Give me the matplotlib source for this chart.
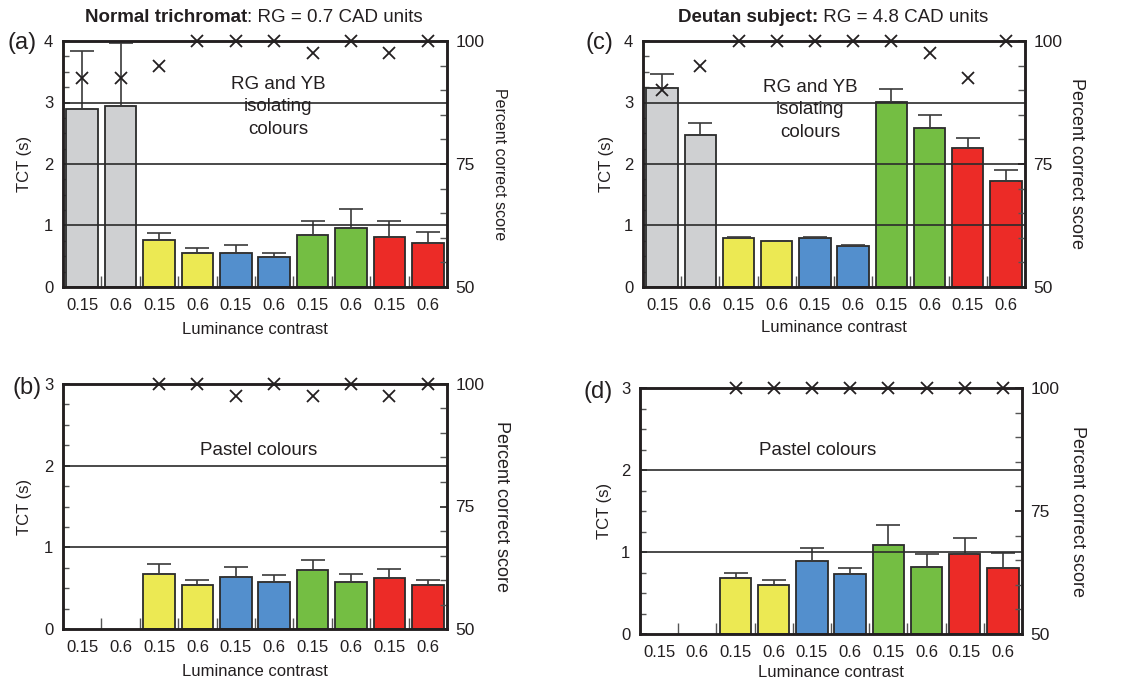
import numpy as np
import matplotlib
matplotlib.use('Agg')
import matplotlib.pyplot as plt
from matplotlib.ticker import MultipleLocator, FixedLocator

plt.rcParams['font.family'] = ['Liberation Sans', 'DejaVu Sans']

# x tick labels (luminance contrast), two per colour group
contrast_labels = ['0.15', '0.6', '0.15', '0.6', '0.15', '0.6', '0.15', '0.6', '0.15', '0.6']
bar_colours = ['#cfd0d2', '#cfd0d2', '#ece953', '#ece953', '#538fcd', '#538fcd',
               '#74be43', '#74be43', '#ec2b27', '#ec2b27']

# (a) normal trichromat, RG and YB isolating colours
tct_a = [2.89, 2.95, 0.76, 0.55, 0.55, 0.49, 0.85, 0.96, 0.81, 0.71]
err_top_a = [3.84, 3.97, 0.88, 0.64, 0.68, 0.56, 1.08, 1.27, 1.08, 0.89]
pc_a = [92.5, 92.5, 95, 100, 100, 100, 97.5, 100, 97.5, 100]

# (b) normal trichromat, pastel colours (no data for the grey pair)
tct_b = [None, None, 0.67, 0.54, 0.64, 0.58, 0.72, 0.575, 0.63, 0.54]
err_top_b = [None, None, 0.80, 0.60, 0.76, 0.66, 0.845, 0.67, 0.73, 0.60]
pc_b = [None, None, 100, 100, 97.5, 100, 97.5, 100, 97.5, 100]

# (c) deutan subject, RG and YB isolating colours
tct_c = [3.23, 2.47, 0.80, 0.74, 0.79, 0.67, 3.01, 2.59, 2.26, 1.73]
err_top_c = [3.47, 2.66, 0.81, 0.75, 0.81, 0.68, 3.22, 2.79, 2.43, 1.91]
pc_c = [90, 95, 100, 100, 100, 100, 100, 97.5, 92.5, 100]

# (d) deutan subject, pastel colours
tct_d = [None, None, 0.68, 0.60, 0.89, 0.73, 1.08, 0.82, 0.97, 0.80]
err_top_d = [None, None, 0.75, 0.655, 1.045, 0.80, 1.335, 0.975, 1.17, 0.985]
pc_d = [None, None, 100, 100, 100, 100, 100, 100, 100, 100]

DARK = '#231f20'


def plot_panel(ax, tct, err_top, pc, ymax, note, note_xy,
               tct_lab_x, pc_lab_x, pc_lab_size, xlab_y):
    x = np.arange(len(contrast_labels))
    idx = [i for i in range(len(tct)) if tct[i] is not None]
    heights = np.array([tct[i] for i in idx])
    tops = np.array([err_top[i] for i in idx])

    ax.bar(x[idx], heights, width=0.82, color=[bar_colours[i] for i in idx],
           edgecolor='#2b2b2b', linewidth=1.3, zorder=2)
    # only the upper half of each error bar is shown
    ax.errorbar(x[idx], heights, yerr=[np.zeros(len(idx)), tops - heights],
                fmt='none', ecolor='#3a3a3a', elinewidth=1.2, capsize=8.5,
                capthick=1.2, zorder=3)
    for g in range(1, ymax):
        ax.axhline(g, color='#2b2b2b', linewidth=1.2, zorder=4)

    ax.set_xlim(-0.5, 9.5)
    ax.set_ylim(0, ymax)
    ax.set_xticks(x)
    ax.set_xticklabels(contrast_labels)
    ax.xaxis.set_minor_locator(FixedLocator(x[:-1] + 0.5))
    ax.tick_params(axis='x', which='major', length=0, pad=8, labelsize=12, colors=DARK)
    ax.tick_params(axis='x', which='minor', direction='in', length=8, width=1.0, color='#555555')
    ax.set_yticks(range(ymax + 1))
    ax.yaxis.set_minor_locator(MultipleLocator(0.25))
    ax.tick_params(axis='y', which='major', direction='in', length=5, width=1.2,
                   pad=7, labelsize=12, colors=DARK)
    ax.tick_params(axis='y', which='minor', direction='in', length=4, width=1.0, color='#555555')
    ax.set_ylabel('TCT (s)', fontsize=12, color=DARK)
    ax.yaxis.set_label_coords(tct_lab_x, 0.5)
    ax.set_xlabel('Luminance contrast', fontsize=12, color=DARK)
    ax.xaxis.set_label_coords(0.5, xlab_y)
    for s in ax.spines.values():
        s.set_linewidth(1.8)
        s.set_color(DARK)

    # percent correct on the right-hand axis
    ax2 = ax.twinx()
    pidx = [i for i in range(len(pc)) if pc[i] is not None]
    ax2.plot(x[pidx], [pc[i] for i in pidx], linestyle='none', marker='x',
             markersize=8, markeredgewidth=1.3, color=DARK, clip_on=False, zorder=5)
    ax2.set_ylim(50, 100)
    ax2.set_yticks([50, 75, 100])
    ax2.yaxis.set_minor_locator(MultipleLocator(5))
    ax2.tick_params(axis='y', which='major', direction='in', length=5, width=1.2,
                    pad=6, labelsize=12.5, colors=DARK)
    ax2.tick_params(axis='y', which='minor', direction='in', length=5, width=1.0, color='#555555')
    ax2.set_ylabel('Percent correct score', rotation=270, fontsize=pc_lab_size, color=DARK)
    ax2.yaxis.set_label_coords(pc_lab_x, 0.5)
    for s in ax2.spines.values():
        s.set_linewidth(1.8)
        s.set_color(DARK)

    ax.text(note_xy[0], note_xy[1], note, transform=ax.transAxes, ha='center',
            va='center', fontsize=13.5, color=DARK, linespacing=1.45, zorder=6)


fig = plt.figure(figsize=(11.33, 6.84), dpi=100)
W, H = 1133.0, 684.0


def axes_px(left, top, right, bottom):
    return fig.add_axes([left / W, 1 - bottom / H, (right - left) / W, (bottom - top) / H])


ax_a = axes_px(63, 41, 447, 287)
ax_b = axes_px(63, 384, 447, 629)
ax_c = axes_px(643, 41, 1025, 287)
ax_d = axes_px(640, 388, 1022, 634)

isolating = 'RG and YB\nisolating\ncolours'
plot_panel(ax_a, tct_a, err_top_a, pc_a, 4, isolating, (0.56, 0.732),
           -0.081, 1.156, 11.5, -0.142)
plot_panel(ax_b, tct_b, err_top_b, pc_b, 3, 'Pastel colours', (0.51, 0.727),
           -0.081, 1.164, 13, -0.143)
plot_panel(ax_c, tct_c, err_top_c, pc_c, 4, isolating, (0.437, 0.72),
           -0.076, 1.157, 13, -0.134)
plot_panel(ax_d, tct_d, err_top_d, pc_d, 3, 'Pastel colours', (0.466, 0.744),
           -0.073, 1.168, 13, -0.126)

# panel letters
for lab, px, py in [('(a)', 22, 43), ('(b)', 27, 388), ('(c)', 599, 43), ('(d)', 598, 392)]:
    fig.text(px / W, 1 - py / H, lab, ha='center', va='center', fontsize=17, color=DARK)

# titles: bold subject name followed by regular text
t1 = fig.text(85 / W, 1 - 18 / H, 'Normal trichromat', ha='left', va='center',
              fontsize=13.5, fontweight='bold', color=DARK)
t2 = fig.text(678 / W, 1 - 17 / H, 'Deutan subject:', ha='left', va='center',
              fontsize=13.5, fontweight='bold', color=DARK)
fig.canvas.draw()
r = fig.canvas.get_renderer()
for t, rest in [(t1, ': RG = 0.7 CAD units'), (t2, ' RG = 4.8 CAD units')]:
    bb = t.get_window_extent(r)
    fig.text(bb.x1 / W, t.get_position()[1], rest, ha='left', va='center',
             fontsize=13.5, color=DARK)

fig.savefig('out.png', dpi=100)
